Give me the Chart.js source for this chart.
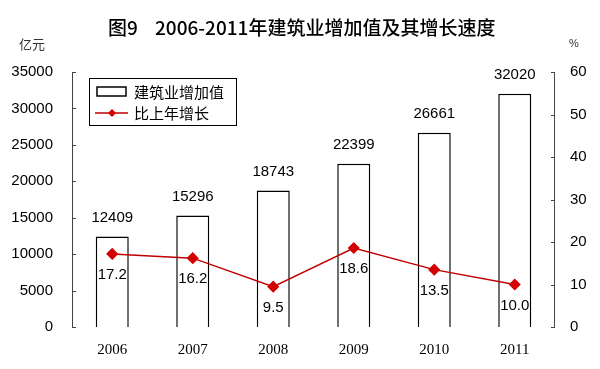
<!DOCTYPE html>
<html>
<head>
<meta charset="utf-8">
<script src="https://cdn.jsdelivr.net/npm/chart.js@4/dist/chart.umd.min.js"></script>
<style>
  html, body { margin: 0; padding: 0; background: #fff; }
  #wrap { width: 600px; height: 369px; }
</style>
</head>
<body>
<div id="wrap"><canvas id="myChart"></canvas></div>
<script>
// DATA ----------------------------------------
const years = ['2006', '2007', '2008', '2009', '2010', '2011'];
const addedValue = [12409, 15296, 18743, 22399, 26661, 32020];   // 亿元
const growthRate = [17.2, 16.2, 9.5, 18.6, 13.5, 10.0];          // %
const leftTicks = [0, 5000, 10000, 15000, 20000, 25000, 30000, 35000];
const rightTicks = [0, 10, 20, 30, 40, 50, 60];

const numFont = '"Liberation Sans", Arial, sans-serif';
const cjkFont = '"Noto Sans CJK SC", sans-serif';

// extra drawing: title, units, inner ticks, value labels, legend
const decor = {
    id: 'decor',
    afterDraw(chart) {
        const c = chart.ctx;
        const yl = chart.scales.y;
        const yr = chart.scales.y1;
        const area = chart.chartArea;
        c.save();

        // title
        c.fillStyle = '#000';
        c.font = '500 19px ' + cjkFont;
        c.textAlign = 'left';
        c.textBaseline = 'middle';
        c.fillText('图9', 108, 28);
        c.fillText('2006-2011年建筑业增加值及其增长速度', 155, 28);

        // units
        c.textAlign = 'center';
        c.font = '13px ' + cjkFont;
        c.fillStyle = '#333';
        c.fillText('亿元', 32, 44);
        c.font = '11px ' + numFont;
        c.fillText('%', 574, 44);

        // axis lines + inward ticks
        c.strokeStyle = '#444';
        c.lineWidth = 1;
        c.beginPath();
        c.moveTo(area.left + 0.5, area.top);
        c.lineTo(area.left + 0.5, area.bottom);
        c.moveTo(area.right - 0.5, area.top);
        c.lineTo(area.right - 0.5, area.bottom);
        leftTicks.forEach(v => {
            const y = Math.round(yl.getPixelForValue(v)) + 0.5;
            c.moveTo(area.left, y);
            c.lineTo(area.left + 4, y);
        });
        rightTicks.forEach(v => {
            const y = Math.round(yr.getPixelForValue(v)) + 0.5;
            c.moveTo(area.right, y);
            c.lineTo(area.right - 4, y);
        });
        c.stroke();

        // value labels
        c.fillStyle = '#000';
        c.font = '15px ' + numFont;
        c.textAlign = 'center';
        const barMeta = chart.getDatasetMeta(0);
        barMeta.data.forEach((el, i) => {
            c.fillText(String(addedValue[i]), el.x, el.y - 19);
        });
        const lineMeta = chart.getDatasetMeta(1);
        lineMeta.data.forEach((el, i) => {
            c.fillText(growthRate[i].toFixed(1), el.x, el.y + 21);
        });

        // legend
        const lx = 89, ly = 78, lw = 147, lh = 47;
        c.strokeStyle = '#000';
        c.lineWidth = 1;
        c.strokeRect(lx + 0.5, ly + 0.5, lw, lh);
        c.lineWidth = 1.5;
        c.strokeRect(97, 87, 29, 9);
        c.strokeStyle = '#c00000';
        c.lineWidth = 1.5;
        c.beginPath();
        c.moveTo(95, 113);
        c.lineTo(128, 113);
        c.stroke();
        c.fillStyle = '#d40000';
        c.beginPath();
        c.moveTo(112, 109);
        c.lineTo(116, 113);
        c.lineTo(112, 117);
        c.lineTo(108, 113);
        c.closePath();
        c.fill();
        c.fillStyle = '#000';
        c.font = '15px ' + cjkFont;
        c.textAlign = 'left';
        c.fillText('建筑业增加值', 134, 92);
        c.fillText('比上年增长', 134, 113);

        c.restore();
    }
};

const config = {
    data: {
        labels: years,
        datasets: [{
            type: 'bar',
            label: '建筑业增加值',
            data: addedValue,
            backgroundColor: '#fff',
            borderColor: '#000',
            borderWidth: 1.5,
            barPercentage: 0.41,
            categoryPercentage: 1,
            yAxisID: 'y',
            order: 2
        },
        {
            type: 'line',
            label: '比上年增长',
            data: growthRate,
            borderColor: '#c00000',
            borderWidth: 1.5,
            pointStyle: 'rectRot',
            pointRadius: 5,
            pointBackgroundColor: '#d40000',
            pointBorderColor: '#d40000',
            yAxisID: 'y1',
            order: 1
        }]
    },
    options: {
        responsive: false,
        animation: false,
        layout: { padding: { top: 72, left: 0, right: 0, bottom: 0 } },
        plugins: {
            legend: { display: false },
            tooltip: { enabled: false }
        },
        scales: {
            x: {
                grid: { display: false, drawTicks: false },
                border: { display: false },
                ticks: {
                    padding: 14,
                    color: '#000',
                    font: { family: '"Liberation Serif", "Times New Roman", serif', size: 15 }
                },
                afterFit(s) { s.height = 42; }
            },
            y: {
                position: 'left',
                min: 0, max: 35000,
                afterBuildTicks(s) { s.ticks = leftTicks.map(v => ({ value: v })); },
                grid: { display: false, drawTicks: false },
                border: { display: false },
                ticks: {
                    padding: 19,
                    color: '#000',
                    font: { family: numFont, size: 15 },
                    callback: v => String(v)
                },
                afterFit(s) { s.width = 72; }
            },
            y1: {
                position: 'right',
                min: 0, max: 60,
                afterBuildTicks(s) { s.ticks = rightTicks.map(v => ({ value: v })); },
                grid: { display: false, drawTicks: false },
                border: { display: false },
                ticks: {
                    padding: 15,
                    color: '#000',
                    font: { family: numFont, size: 15 },
                    callback: v => String(v)
                },
                afterFit(s) { s.width = 45; }
            }
        }
    },
    plugins: [decor]
};

const canvas = document.getElementById('myChart');
canvas.width = 600;
canvas.height = 369;
const chart = new Chart(canvas, config);
</script>
</body>
</html>
